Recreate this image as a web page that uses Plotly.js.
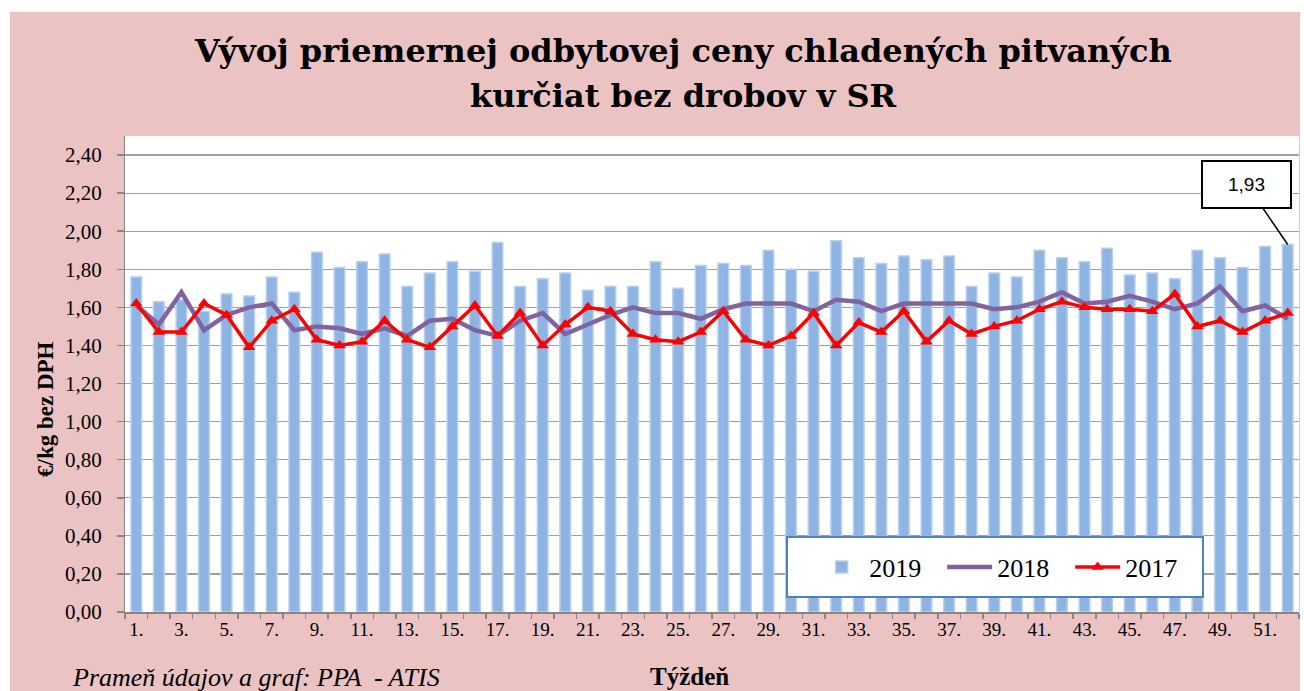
<!DOCTYPE html>
<html>
<head>
<meta charset="utf-8">
<script src="https://cdn.plot.ly/plotly-3.0.1.min.js"></script>
<style>
  html, body { margin: 0; padding: 0; background: #ffffff; width: 1304px; height: 691px; overflow: hidden; }
  #chart { position: absolute; left: 10px; top: 12px; width: 1290px; height: 679px; }
</style>
</head>
<body>
<div id="chart"></div>
<script>
// ---- data ----
const weeks = Array.from({length: 52}, (_, i) => i + 1);
const weekTickVals = weeks.filter(w => w % 2 === 1);
const weekLabels = weekTickVals.map(w => w + ".");

const price2019 = [1.76,1.63,1.64,1.58,1.67,1.66,1.76,1.68,1.89,1.81,1.84,1.88,1.71,1.78,1.84,1.79,1.94,1.71,1.75,1.78,1.69,1.71,1.71,1.84,1.70,1.82,1.83,1.82,1.90,1.80,1.79,1.95,1.86,1.83,1.87,1.85,1.87,1.71,1.78,1.76,1.90,1.86,1.84,1.91,1.77,1.78,1.75,1.90,1.86,1.81,1.92,1.93];
const price2018 = [1.61,1.51,1.68,1.48,1.56,1.60,1.62,1.48,1.50,1.49,1.46,1.49,1.45,1.53,1.54,1.48,1.45,1.53,1.57,1.46,1.51,1.56,1.60,1.57,1.57,1.54,1.59,1.62,1.62,1.62,1.58,1.64,1.63,1.58,1.62,1.62,1.62,1.62,1.59,1.60,1.63,1.68,1.62,1.63,1.66,1.63,1.59,1.62,1.71,1.58,1.61,1.54];
const price2017 = [1.62,1.47,1.47,1.62,1.56,1.39,1.53,1.59,1.43,1.40,1.42,1.53,1.43,1.39,1.50,1.61,1.45,1.57,1.40,1.51,1.60,1.58,1.46,1.43,1.42,1.47,1.58,1.43,1.40,1.45,1.57,1.40,1.52,1.47,1.58,1.42,1.53,1.46,1.50,1.53,1.59,1.63,1.60,1.59,1.59,1.58,1.67,1.50,1.53,1.47,1.53,1.57];
const yTickVals = [0,0.2,0.4,0.6,0.8,1.0,1.2,1.4,1.6,1.8,2.0,2.2,2.4];
const yTickText = ["0,00","0,20","0,40","0,60","0,80","1,00","1,20","1,40","1,60","1,80","2,00","2,20","2,40"];
const seriesNames = ["2019", "2018", "2017"];
const lastLabel = "1,93";

const serif = "Liberation Serif, Times New Roman, serif";

const traces = [
  {
    type: "bar", name: seriesNames[0], x: weeks, y: price2019,
    marker: { color: "#8DB4E2", line: { color: "#B8D0EE", width: 1.5 } },
    hoverinfo: "skip"
  },
  {
    type: "scatter", mode: "lines", name: seriesNames[1], x: weeks, y: price2018,
    line: { color: "#8064A2", width: 4.5 }, hoverinfo: "skip"
  },
  {
    type: "scatter", mode: "lines+markers", name: seriesNames[2], x: weeks, y: price2017,
    line: { color: "#FF0000", width: 3.5 },
    marker: { symbol: "triangle-up", size: 11, color: "#FF0000" }, hoverinfo: "skip"
  }
];

const layout = {
  width: 1290, height: 679,
  paper_bgcolor: "#EBC3C3",
  plot_bgcolor: "#FFFFFF",
  margin: { l: 115, r: 1, t: 124, b: 79, autoexpand: false },
  bargap: 0.53,
  showlegend: true,
  legend: {
    orientation: "h", x: 0.587, y: 0.0945, xanchor: "left", yanchor: "middle",
    bgcolor: "rgba(0,0,0,0)", borderwidth: 0,
    font: { family: serif, size: 26, color: "#000" },
    entrywidth: 68, itemwidth: 45, traceorder: "normal"
  },
  xaxis: {
    range: [0.5, 52.5],
    tickvals: weekTickVals, ticktext: weekLabels,
    ticks: "", showgrid: false, zeroline: false,
    showline: true, linecolor: "#868686", linewidth: 1.5,
    tickfont: { family: serif, size: 19, color: "#000" },
    minor: { ticks: "outside", tick0: 0.5, dtick: 1, ticklen: 5, tickcolor: "#868686", tickwidth: 1.5, showgrid: false },
    fixedrange: true
  },
  yaxis: {
    range: [0, 2.5],
    tickvals: yTickVals, ticktext: yTickText.map(t => t + "\u00A0\u00A0"),
    ticks: "outside", ticklen: 7, tickcolor: "#868686", tickwidth: 1.5,
    showgrid: true, gridcolor: "#A0A0A0", gridwidth: 1.2,
    zeroline: false, showline: true, linecolor: "#868686", linewidth: 1.5,
    tickfont: { family: serif, size: 21, color: "#000" },
    fixedrange: true
  },
  shapes: [
    { type: "rect", xref: "paper", yref: "paper", layer: "above",
      x0: (787 - 125) / 1174, x1: (1203 - 125) / 1174,
      y0: (612 - 597) / 476, y1: (612 - 537) / 476,
      fillcolor: "#FFFFFF", line: { color: "#4F81BD", width: 2 } }
  ],
  annotations: [
    { xref: "paper", yref: "paper", x: (683 - 125) / 1174, y: (612 - 51) / 476,
      text: "<b>Vývoj priemernej odbytovej ceny chladených pitvaných</b>", showarrow: false,
      xanchor: "center", yanchor: "middle",
      font: { family: "DejaVu Serif, serif", size: 32, color: "#000" } },
    { xref: "paper", yref: "paper", x: (683 - 125) / 1174, y: (612 - 96) / 476,
      text: "<b>kurčiat bez drobov v SR</b>", showarrow: false,
      xanchor: "center", yanchor: "middle",
      font: { family: "DejaVu Serif, serif", size: 32, color: "#000" } },
    { xref: "paper", yref: "paper", x: (45 - 125) / 1174, y: (612 - 409) / 476,
      text: "<b>€/kg bez DPH</b>", showarrow: false, textangle: -90,
      xanchor: "center", yanchor: "middle",
      font: { family: serif, size: 23, color: "#000" } },
    { xref: "paper", yref: "paper", x: (689 - 125) / 1174, y: (612 - 676) / 476,
      text: "<b>Týždeň</b>", showarrow: false,
      xanchor: "center", yanchor: "middle",
      font: { family: serif, size: 25, color: "#000" } },
    { xref: "paper", yref: "paper", x: (70 - 125) / 1174, y: (612 - 677) / 476,
      text: "<i>Prameň údajov a graf: PPA  - ATIS</i>", showarrow: false,
      xanchor: "left", yanchor: "middle",
      font: { family: serif, size: 26, color: "#000" } },
    { x: 52, y: price2019[51], xref: "x", yref: "y",
      text: lastLabel, showarrow: true, arrowhead: 0, arrowwidth: 1.5, arrowcolor: "#000",
      ax: -41, ay: -60, width: 85, height: 43,
      bgcolor: "#FFFFFF", bordercolor: "#000", borderwidth: 2,
      font: { family: "Liberation Sans, Arial, sans-serif", size: 19, color: "#000" } }
  ]
};

Plotly.newPlot("chart", traces, layout, { displayModeBar: false, staticPlot: true });
</script>
</body>
</html>
